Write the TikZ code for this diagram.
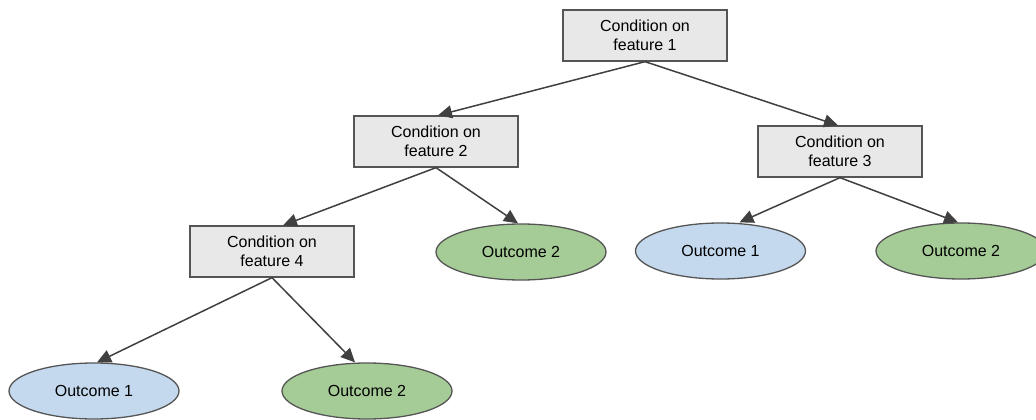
\documentclass[tikz,border=0pt]{standalone}
\usepackage{fontspec}
\setmainfont{Liberation Sans}
\usetikzlibrary{shapes.geometric,arrows.meta}
\definecolor{boxfill}{HTML}{E8E8E8}
\definecolor{edgegray}{HTML}{555555}
\definecolor{arrowgray}{HTML}{404040}
\definecolor{blueout}{HTML}{C4D9EE}
\definecolor{greenout}{HTML}{A5CC96}
\begin{document}
\begin{tikzpicture}[x=1pt,y=-1pt,
  cond/.style={draw=edgegray, fill=boxfill, line width=1.3pt, minimum width=164pt, minimum height=51pt, inner sep=0pt, align=center, font=\fontsize{16}{19}\selectfont},
  outc/.style={ellipse, draw=edgegray, line width=1.3pt, minimum width=170pt, minimum height=56pt, inner sep=0pt, font=\fontsize{16}{19}\selectfont},
  blueo/.style={outc, fill=blueout},
  greeno/.style={outc, fill=greenout},
  link/.style={draw=arrowgray, line width=1.5pt, -{Triangle[length=14pt,width=13pt]}}]
\useasboundingbox (0,0) rectangle (1036,420);
\node[cond] (b1) at (645,35.5) {Condition on\\feature 1};
\node[cond] (b2) at (436,141.5) {Condition on\\feature 2};
\node[cond] (b3) at (840,151.5) {Condition on\\feature 3};
\node[cond] (b4) at (272,251.5) {Condition on\\feature 4};
\node[greeno] (o2m) at (521,252) {Outcome 2};
\node[blueo] (o1r) at (720.5,251) {Outcome 1};
\node[greeno] (o2r) at (961,251) {Outcome 2};
\node[blueo] (o1bl) at (94,391) {Outcome 1};
\node[greeno] (o2b) at (367,391) {Outcome 2};
\draw[link] (b1.south) -- ([xshift=2pt]b2.north);
\draw[link] (b1.south) -- ([xshift=-2pt]b3.north);
\draw[link] (b2.south) -- ([xshift=11pt]b4.north);
\draw[link] (b2.south) -- ([xshift=-3pt]o2m.north);
\draw[link] (b3.south) -- ([xshift=19pt]o1r.north);
\draw[link] (b3.south) -- ([xshift=-3pt]o2r.north);
\draw[link] (b4.south) -- ([xshift=3pt]o1bl.north);
\draw[link] (b4.south) -- ([xshift=-12pt]o2b.north);
\end{tikzpicture}
\end{document}
